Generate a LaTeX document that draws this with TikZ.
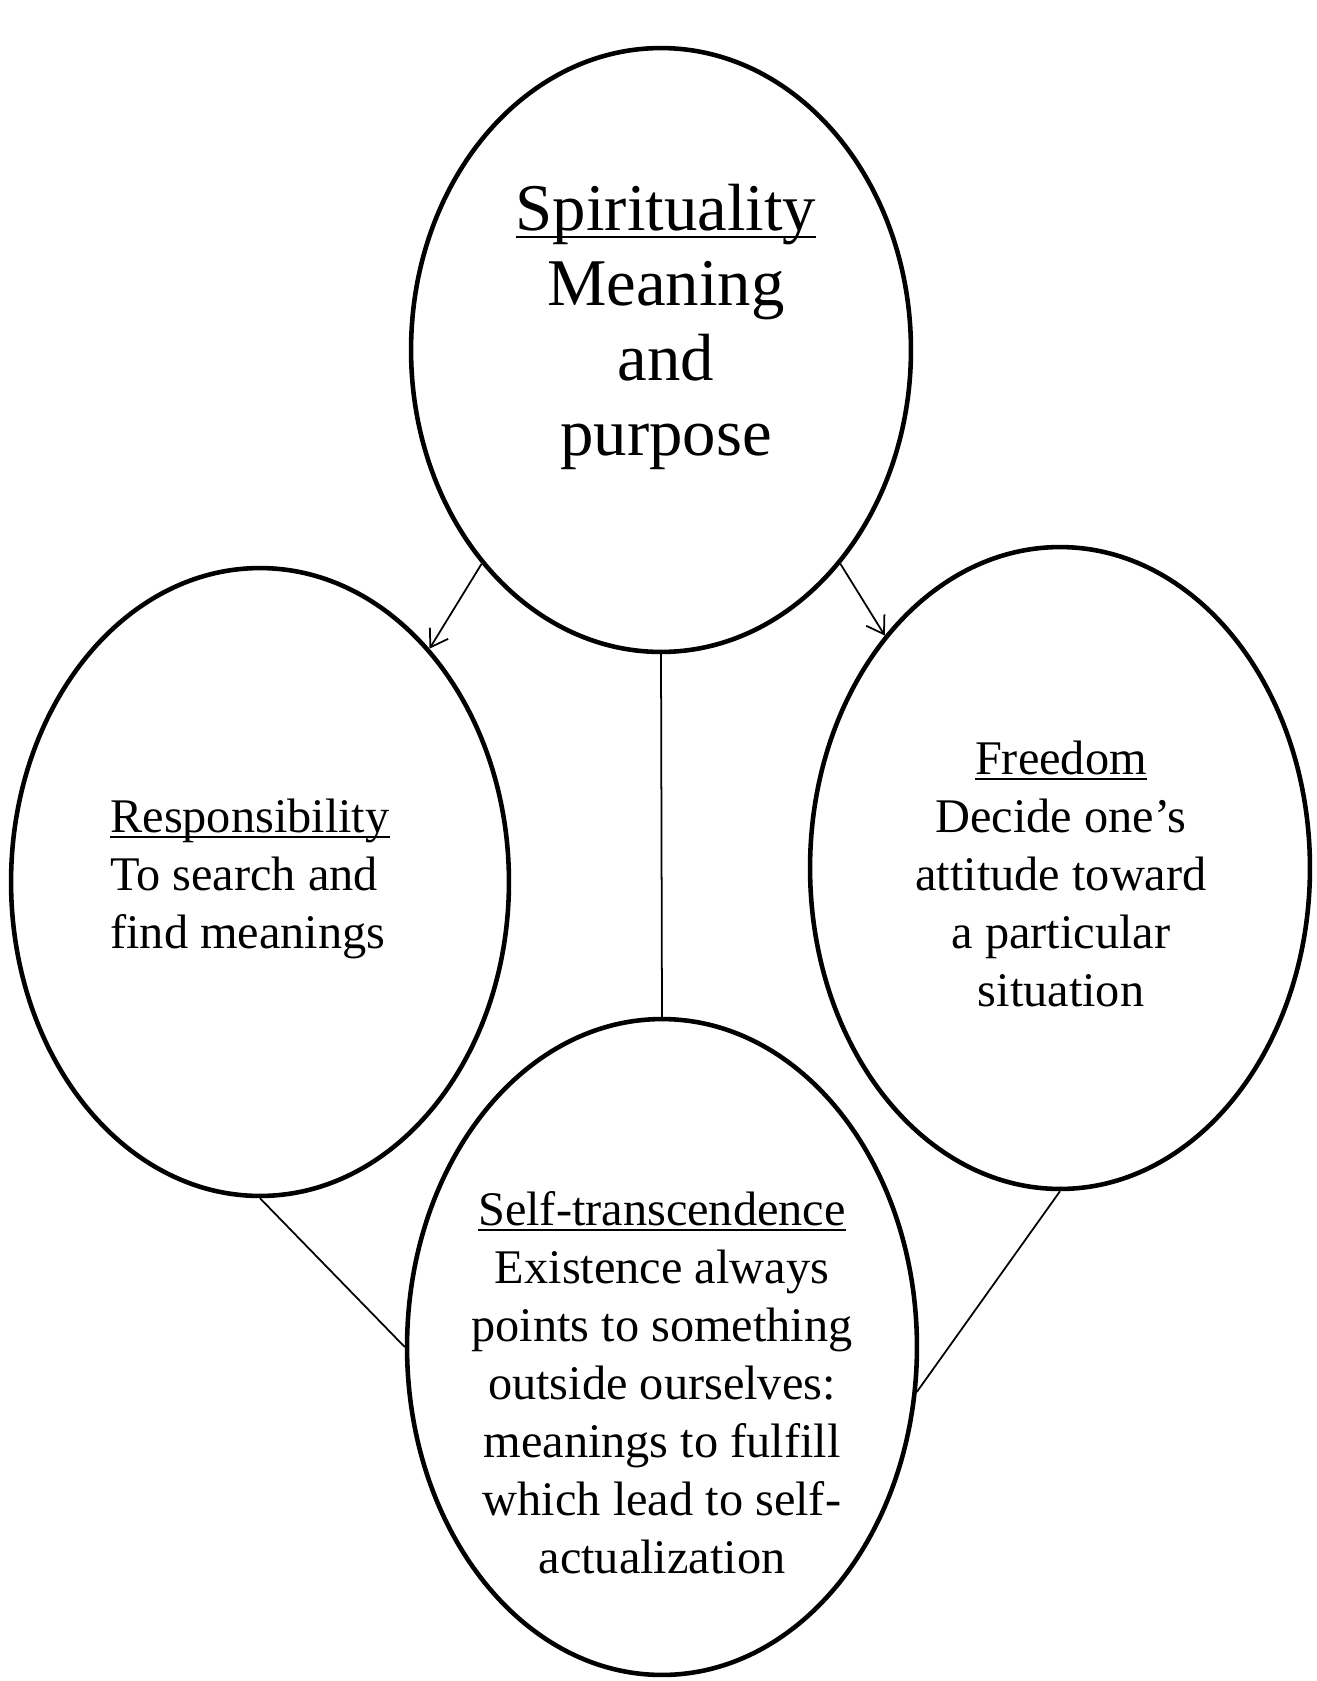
\documentclass[tikz,border=0pt]{standalone}
\usepackage{fontspec}
\setmainfont{Liberation Serif}
\usetikzlibrary{arrows.meta,shapes.geometric}
\newcommand{\undl}[1]{\setbox0\hbox{#1}\rlap{\rule[-0.11em]{\wd0}{0.035em}}\box0}
\tikzset{
  >={Straight Barb[length=3.3mm,width=4.3mm]},
  bubble/.style={ellipse,draw=black,line width=2.6pt,inner sep=0pt},
  link/.style={draw=black,line width=1pt},
  flow/.style={->,draw=black,line width=1pt},
  bigbody/.style={font=\fontsize{38}{42.7}\selectfont,align=center,inner sep=0pt},
  body/.style={font=\fontsize{27.5}{33}\selectfont,inner sep=0pt},
}

\begin{document}
\begin{tikzpicture}[x=0.02cm,y=-0.02cm]
\useasboundingbox (0,0) rectangle (1317,1681);

% Spirituality ----------------------------------------------------------------
\node[bubble,minimum width=10cm,minimum height=12.08cm] (spirit) at (661,350) {};
\node[bigbody] (spirittxt) at (666,327) {\undl{Spirituality}\\Meaning\\and\\purpose};

% Responsibility --------------------------------------------------------------
\node[bubble,minimum width=9.96cm,minimum height=12.56cm] (resp) at (260,882) {};
\node[body,align=left,anchor=west] (resptxt) at (110,879) {\undl{Responsibility}\\To search and\\find meanings};

% Freedom ---------------------------------------------------------------------
\node[bubble,minimum width=10cm,minimum height=12.84cm] (free) at (1060,868) {};
\node[body,align=center] (freetxt) at (1061,874) {\undl{Freedom}\\Decide one’s\\attitude toward\\a particular\\situation};

% Self-transcendence ----------------------------------------------------------
\node[bubble,minimum width=10.2cm,minimum height=13.12cm] (trans) at (662,1347) {};
\node[body,align=center] (transtxt) at (662,1383) {\undl{Self-transcendence}\\Existence always\\points to something\\outside ourselves:\\meanings to fulfill\\which lead to self-\\actualization};

% connectors ------------------------------------------------------------------
\draw[flow] (spirit.230) -- (resp.54);
\draw[flow] (spirit.-50) -- (free.127);
\draw[link] (spirit.south) -- (trans.north);
\draw[link] (resp.south) -- (trans.west);
\draw[link] (free.south) -- (trans.-10);

\end{tikzpicture}
\end{document}
